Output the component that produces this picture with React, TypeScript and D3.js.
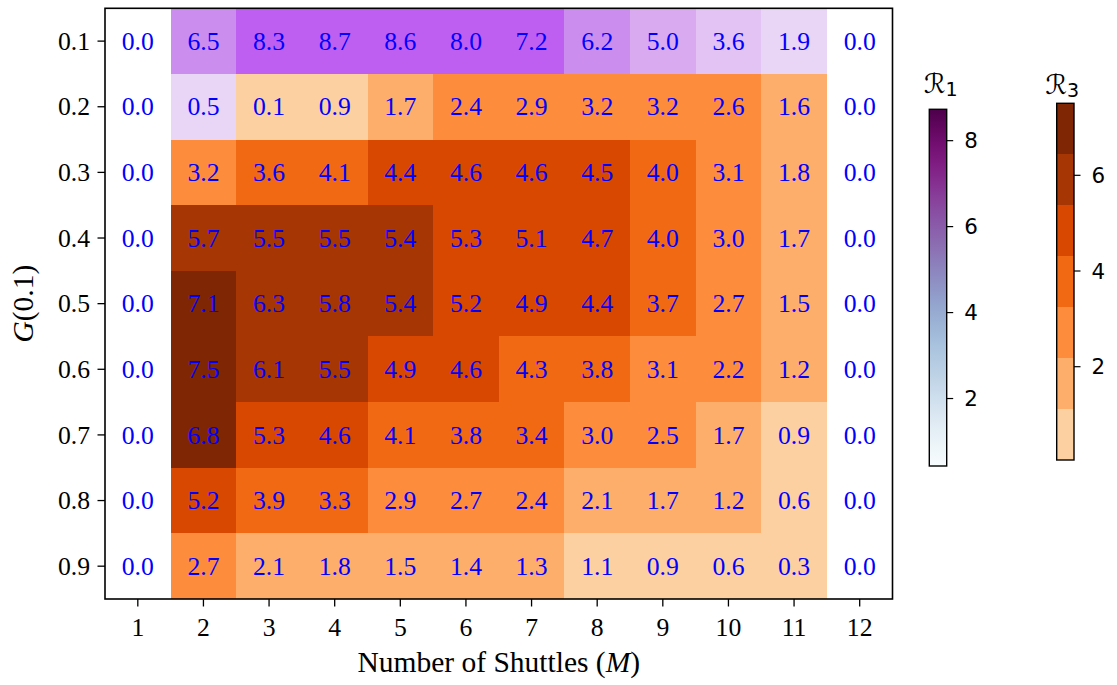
import React from 'react';
import * as d3 from 'd3';

const gLabels = ['0.1', '0.2', '0.3', '0.4', '0.5', '0.6', '0.7', '0.8', '0.9'];
const mLabels = ['1', '2', '3', '4', '5', '6', '7', '8', '9', '10', '11', '12'];

const values: number[][] = [
  [0.0, 6.5, 8.3, 8.7, 8.6, 8.0, 7.2, 6.2, 5.0, 3.6, 1.9, 0.0],
  [0.0, 0.5, 0.1, 0.9, 1.7, 2.4, 2.9, 3.2, 3.2, 2.6, 1.6, 0.0],
  [0.0, 3.2, 3.6, 4.1, 4.4, 4.6, 4.6, 4.5, 4.0, 3.1, 1.8, 0.0],
  [0.0, 5.7, 5.5, 5.5, 5.4, 5.3, 5.1, 4.7, 4.0, 3.0, 1.7, 0.0],
  [0.0, 7.1, 6.3, 5.8, 5.4, 5.2, 4.9, 4.4, 3.7, 2.7, 1.5, 0.0],
  [0.0, 7.5, 6.1, 5.5, 4.9, 4.6, 4.3, 3.8, 3.1, 2.2, 1.2, 0.0],
  [0.0, 6.8, 5.3, 4.6, 4.1, 3.8, 3.4, 3.0, 2.5, 1.7, 0.9, 0.0],
  [0.0, 5.2, 3.9, 3.3, 2.9, 2.7, 2.4, 2.1, 1.7, 1.2, 0.6, 0.0],
  [0.0, 2.7, 2.1, 1.8, 1.5, 1.4, 1.3, 1.1, 0.9, 0.6, 0.3, 0.0],
];

// which colour scale each cell uses: Z = none (white), A = R1, B = R3
const metric = [
  'ZAAAAAAAAAAZ',
  'ZABBBBBBBBBZ',
  'ZBBBBBBBBBBZ',
  'ZBBBBBBBBBBZ',
  'ZBBBBBBBBBBZ',
  'ZBBBBBBBBBBZ',
  'ZBBBBBBBBBBZ',
  'ZBBBBBBBBBBZ',
  'ZBBBBBBBBBBZ',
];

const r1Domain = [0.43, 8.73];
const r3Domain = [0.05, 7.505];
const r1Ticks = [2, 4, 6, 8];
const r3Ticks = [2, 4, 6];
const r1CellColors = ['#e9d5f6', '#e2c3f3', '#d9aaf0', '#cc8eee', '#bf5ff1'];
const r3Colors = ['#fdd0a2', '#fdae6b', '#fd8d3c', '#f16913', '#d94801', '#a63603', '#7f2704'];

const W = 1117;
const H = 685;
const PX0 = 105, PX1 = 892.5, PY0 = 8.3, PY1 = 599;
const SERIF = '"Liberation Serif", "Times New Roman", serif';
const SANS = '"DejaVu Sans", sans-serif';

export default function App() {
  const x = d3.scaleBand<string>().domain(mLabels).range([PX0, PX1]);
  const y = d3.scaleBand<string>().domain(gLabels).range([PY0, PY1]);
  const c1 = d3.scaleQuantize<string>().domain(r1Domain as [number, number]).range(r1CellColors);
  const c3 = d3.scaleQuantize<string>().domain(r3Domain as [number, number]).range(r3Colors);

  // colourbars
  const cb1 = { x: 929.3, w: 17.4, y0: 109.3, y1: 466 };
  const cb3 = { x: 1056.7, w: 17.3, y0: 103.3, y1: 460 };
  const y1s = d3.scaleLinear().domain(r1Domain).range([cb1.y1, cb1.y0]);
  const y3s = d3.scaleLinear().domain(r3Domain).range([cb3.y1, cb3.y0]);
  const stops = d3.range(0, 1.0001, 0.05);
  const th = [r3Domain[0], ...c3.thresholds(), r3Domain[1]];

  const bw = x.bandwidth();
  const bh = y.bandwidth();

  return (
    <svg width={W} height={H} style={{ position: 'absolute', left: 0, top: 0, background: '#fff' }}>
      <defs>
        <linearGradient id="bupu" x1="0" y1="1" x2="0" y2="0">
          {stops.map((t) => (
            <stop key={t} offset={t} stopColor={d3.interpolateBuPu(t)} />
          ))}
        </linearGradient>
      </defs>
      {/* cells */}
      {values.map((row, i) =>
        row.map((v, j) => {
          const m = metric[i][j];
          const fill = m === 'A' ? c1(v) : m === 'B' ? c3(v) : '#ffffff';
          return (
            <rect
              key={`c${i}-${j}`}
              x={x(mLabels[j])}
              y={y(gLabels[i])}
              width={bw}
              height={bh}
              fill={fill}
              shapeRendering="crispEdges"
            />
          );
        })
      )}
      {values.map((row, i) =>
        row.map((v, j) => (
          <text
            key={`t${i}-${j}`}
            x={(x(mLabels[j]) as number) + bw / 2}
            y={(y(gLabels[i]) as number) + bh / 2 + 8.7}
            textAnchor="middle"
            fontFamily={SERIF}
            fontSize={25.7}
            fill="#0000ff"
          >
            {v.toFixed(1)}
          </text>
        ))
      )}
      <rect x={PX0} y={PY0} width={PX1 - PX0} height={PY1 - PY0} fill="none" stroke="#000" strokeWidth={1.6} />
      {/* x axis */}
      {mLabels.map((m) => {
        const cx = (x(m) as number) + bw / 2;
        return (
          <g key={`x${m}`}>
            <line x1={cx} x2={cx} y1={PY1} y2={PY1 + 7.5} stroke="#000" strokeWidth={1.3} />
            <text x={cx} y={635.5} textAnchor="middle" fontFamily={SERIF} fontSize={25.7} fill="#000">
              {m}
            </text>
          </g>
        );
      })}
      {gLabels.map((g) => {
        const cy = (y(g) as number) + bh / 2;
        return (
          <g key={`y${g}`}>
            <line x1={PX0 - 7.5} x2={PX0} y1={cy} y2={cy} stroke="#000" strokeWidth={1.3} />
            <text x={PX0 - 15} y={cy + 8.7} textAnchor="end" fontFamily={SERIF} fontSize={25.7} fill="#000">
              {g}
            </text>
          </g>
        );
      })}
      <text x={(PX0 + PX1) / 2} y={672} textAnchor="middle" fontFamily={SERIF} fontSize={29.5} fill="#000">
        Number of Shuttles (<tspan fontStyle="italic">M</tspan>)
      </text>
      <text
        transform={`translate(33, ${(PY0 + PY1) / 2}) rotate(-90)`}
        textAnchor="middle"
        fontFamily={SERIF}
        fontSize={29.5}
        fill="#000"
      >
        <tspan fontStyle="italic">G</tspan>(0.1)
      </text>

      {/* R1 colourbar */}
      <rect x={cb1.x} y={cb1.y0} width={cb1.w} height={cb1.y1 - cb1.y0} fill="url(#bupu)" />
      <rect x={cb1.x} y={cb1.y0} width={cb1.w} height={cb1.y1 - cb1.y0} fill="none" stroke="#000" strokeWidth={1.4} />
      {r1Ticks.map((t) => (
        <g key={`r1${t}`}>
          <line x1={cb1.x + cb1.w} x2={cb1.x + cb1.w + 6.5} y1={y1s(t)} y2={y1s(t)} stroke="#000" strokeWidth={1.2} />
          <text x={cb1.x + cb1.w + 17.5} y={y1s(t) + 7.7} fontFamily={SANS} fontSize={21.4} fill="#000">
            {t}
          </text>
        </g>
      ))}
      <text x={924} y={93} fontFamily={SANS} fontSize={27} fill="#000">
        ℛ<tspan fontSize={19} dy={3}>1</tspan>
      </text>

      {/* R3 colourbar */}
      {th.slice(0, -1).map((lo, k) => (
        <rect
          key={`b${k}`}
          x={cb3.x}
          y={y3s(th[k + 1])}
          width={cb3.w}
          height={y3s(lo) - y3s(th[k + 1])}
          fill={r3Colors[k]}
          shapeRendering="crispEdges"
        />
      ))}
      <rect x={cb3.x} y={cb3.y0} width={cb3.w} height={cb3.y1 - cb3.y0} fill="none" stroke="#000" strokeWidth={1.4} />
      {r3Ticks.map((t) => (
        <g key={`r3${t}`}>
          <line x1={cb3.x + cb3.w} x2={cb3.x + cb3.w + 6.5} y1={y3s(t)} y2={y3s(t)} stroke="#000" strokeWidth={1.2} />
          <text x={cb3.x + cb3.w + 17.5} y={y3s(t) + 7.7} fontFamily={SANS} fontSize={21.4} fill="#000">
            {t}
          </text>
        </g>
      ))}
      <text x={1045.5} y={94} fontFamily={SANS} fontSize={27} fill="#000">
        ℛ<tspan fontSize={19} dy={3}>3</tspan>
      </text>
    </svg>
  );
}
